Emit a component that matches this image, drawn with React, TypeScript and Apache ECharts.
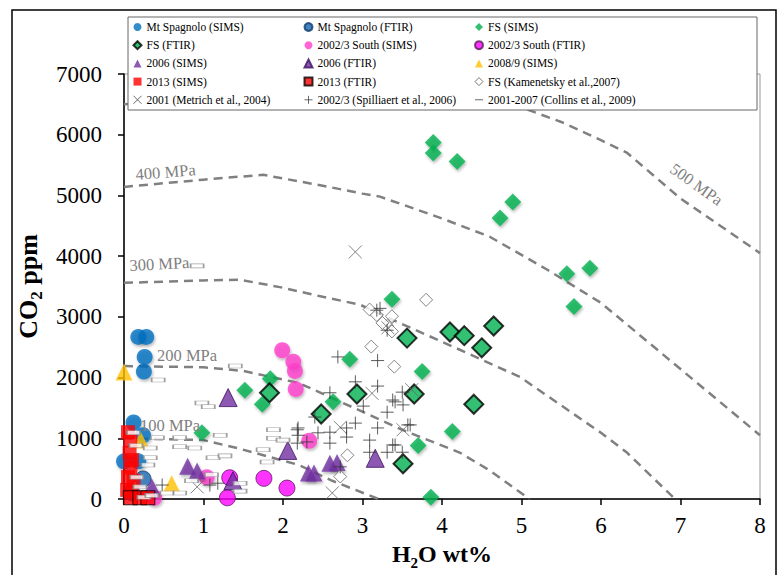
import React, { useEffect, useRef } from "react";
import * as echarts from "echarts";

const FONT = "'Liberation Serif', 'Times New Roman', serif";

// ---- data: [H2O wt%, CO2 ppm] ----
const mtSpagnoloSIMS = [[0.18, 2670], [0.28, 2670], [0.26, 2340], [0.25, 2100], [0.12, 1260], [0.24, 1050], [0.0, 620], [0.18, 620]];
const mtSpagnoloFTIR = [[0.24, 330], [0.1, 100]];
const fsSIMS = [[3.89, 5870], [3.89, 5700], [4.19, 5560], [4.89, 4890], [4.73, 4630], [5.57, 3710], [5.86, 3800], [5.66, 3170], [3.37, 3290], [2.84, 2300], [3.75, 2100], [1.84, 1980], [1.52, 1790], [1.74, 1560], [2.63, 1600], [3.70, 880], [3.86, 30], [0.98, 1090], [4.13, 1110]];
const fsFTIR = [[4.10, 2750], [4.28, 2690], [4.65, 2850], [4.50, 2490], [3.56, 2650], [3.65, 1730], [2.93, 1730], [4.40, 1560], [2.48, 1400], [1.83, 1750], [3.51, 580]];
const south23SIMS = [[1.99, 2450], [2.13, 2260], [2.15, 2110], [2.16, 1810], [2.33, 960], [1.04, 360], [0.38, 20]];
const south23FTIR = [[1.33, 350], [1.30, 20], [1.76, 340], [2.05, 180]];
const y2006SIMS = [[0.80, 540], [0.92, 460], [2.32, 430], [2.39, 430], [2.59, 590], [2.68, 600], [0.35, 200]];
const y2006FTIR = [[1.31, 1670], [2.06, 800], [3.16, 670], [1.37, 300]];
const y2008SIMS = [[0.0, 2090], [0.21, 970], [0.6, 250]];
const y2013SIMS = [[0.05, 1100], [0.08, 960], [0.07, 760], [0.1, 640], [0.08, 520], [0.05, 360], [0.12, 300], [0.04, 150], [0.1, 130]];
const y2013FTIR = [[0.08, 20], [0.2, 20], [0.3, 20]];
const kamenetsky = [[3.80, 3280], [3.09, 3120], [3.18, 3030], [3.37, 3010], [3.31, 2850], [3.37, 2760], [3.11, 2510], [3.40, 2180], [2.81, 720], [2.72, 370], [3.25, 2900]];
const metrich = [[2.91, 4070], [3.12, 1740], [3.51, 1140], [2.62, 100], [0.92, 200], [3.62, 1800], [3.32, 2820], [2.72, 1180]];
const spilliaert = [[2.69, 2340], [3.19, 2280], [2.91, 1930], [3.19, 1860], [2.59, 1750], [3.01, 1530], [2.40, 1350], [2.19, 1170], [2.19, 1050], [2.30, 940], [2.59, 1100], [2.59, 920], [2.80, 1170], [2.91, 1250], [2.80, 1020], [3.31, 1430], [3.38, 1630], [3.51, 1550], [3.60, 1220], [3.09, 970], [3.09, 770], [3.41, 890], [2.72, 530], [3.19, 1170], [3.18, 3110], [3.31, 2780], [2.44, 1090], [2.18, 1140], [2.18, 920], [0.48, 230], [1.18, 260], [1.08, 230], [3.5, 1760], [3.41, 1600], [3.57, 1220], [3.38, 890], [3.31, 770], [3.5, 770], [3.22, 3140]];
const collins = [[1.40, 2190], [0.43, 1960], [0.98, 1580], [1.06, 1520], [0.12, 1090], [0.70, 1010], [1.21, 1050], [0.70, 860], [0.89, 840], [0.33, 840], [0.33, 680], [1.12, 680], [1.27, 710], [1.88, 1140], [1.88, 1000], [2.0, 970], [1.75, 810], [1.80, 610], [1.46, 260], [1.46, 130], [0.70, 100], [0.54, 100], [0.42, 1010], [0.16, 360], [0.2, 200], [0.92, 3840], [0.3, 560], [0.15, 880], [1.1, 400], [0.85, 300], [0.25, 30], [0.35, 60]];

// isobars
const iso100 = [[0, 1000], [1.0, 970], [1.45, 830], [2.2, 560], [2.6, 310], [3.2, 0]];
const iso200 = [[0, 2190], [1.0, 2170], [1.5, 2110], [2.2, 1910], [2.59, 1680], [3.5, 1140], [4.23, 760], [4.6, 470], [5.1, 0]];
const iso300 = [[0, 3560], [1.0, 3600], [1.46, 3610], [1.96, 3490], [2.5, 3330], [2.97, 3200], [3.38, 2950], [4.0, 2590], [4.98, 2010], [6.0, 1090], [6.33, 760], [6.93, 0]];
const iso400 = [[0, 5140], [1.0, 5260], [1.75, 5340], [2.5, 5160], [3.0, 5030], [3.22, 4980], [4.0, 4620], [4.6, 4320], [5.32, 3780], [6.0, 3230], [7.0, 2140], [8.0, 1050]];
const iso500 = [[0, 6500], [2.0, 6700], [3.5, 6650], [4.5, 6560], [5.0, 6450], [5.5, 6210], [6.0, 5910], [6.33, 5700], [7.0, 4950], [8.0, 4050]];

const xTicks = [0, 8, 1];
const yTicks = [0, 7000, 1000];

const CROSS = "path://M0,0L10,10M10,0L0,10";
const PLUS = "path://M5,0L5,10M0,5L10,5";
const DASH = "path://M0,0L0.01,0M0,4.4H10V5.6H0ZM0,10L0.01,10";

const shadow = { shadowBlur: 3, shadowColor: "rgba(0,0,0,0.35)", shadowOffsetX: 1, shadowOffsetY: 2 };
const noShadow = { shadowBlur: 0, shadowColor: "transparent", shadowOffsetX: 0, shadowOffsetY: 0 };

export default function App() {
  const ref = useRef<HTMLDivElement>(null);
  useEffect(() => {
    if (!ref.current) return;
    const chart = echarts.init(ref.current, null, { renderer: "svg" });

    const iso = (name: string, data: number[][]) => ({
      name, type: "line", data, showSymbol: false, symbol: "none", silent: true, z: 1,
      lineStyle: { color: "#808080", width: 2.5, type: [9, 6] },
    });
    const sc = (name: string, data: number[][], symbol: any, size: any, itemStyle: any, z = 2) => ({
      name, type: "scatter", data, symbol, symbolSize: size, itemStyle, z,
    });

    const series = [
      iso("iso100", iso100), iso("iso200", iso200), iso("iso300", iso300), iso("iso400", iso400), iso("iso500", iso500),
      sc("Mt Spagnolo (SIMS)", mtSpagnoloSIMS, "circle", 16, { color: "#0070C0", ...shadow }),
      sc("Mt Spagnolo (FTIR)", mtSpagnoloFTIR, "circle", 16, { color: "#1563AE", borderColor: "#0d3b6e", borderWidth: 1 }),
      sc("FS (SIMS)", fsSIMS, "diamond", 17, { color: "#00B050", ...shadow }),
      sc("FS (FTIR)", fsFTIR, "diamond", 19, { color: "#00B050", borderColor: "#000", borderWidth: 2 }),
      sc("2002/3 South (SIMS)", south23SIMS, "circle", 16, { color: "#FF3FCC", ...shadow }),
      sc("2002/3 South (FTIR)", south23FTIR, "circle", 16, { color: "#FF00FF", borderColor: "#5a1a5a", borderWidth: 1 }),
      sc("2006 (SIMS)", y2006SIMS, "triangle", 17, { color: "#7030A0", ...shadow }),
      sc("2006 (FTIR)", y2006FTIR, "triangle", 18, { color: "#7030A0", borderColor: "#3a1060", borderWidth: 1 }),
      sc("2008/9 (SIMS)", y2008SIMS, "triangle", 17, { color: "#FFC000" }),
      sc("2013 (SIMS)", y2013SIMS, "rect", 14, { color: "#FF0000" }),
      sc("2013 (FTIR)", y2013FTIR, "rect", 14, { color: "#FF0000", borderColor: "#000", borderWidth: 1 }),
      sc("FS (Kamenetsky et al.,2007)", kamenetsky, "diamond", 13, { color: "#fff", borderColor: "#666", borderWidth: 1 }, 3),
      sc("2001 (Metrich et al., 2004)", metrich, CROSS, 13, { color: "none", borderColor: "#666", borderWidth: 1 }, 3),
      sc("2002/3 (Spilliaert et al., 2006)", spilliaert, PLUS, 13, { color: "none", borderColor: "#333", borderWidth: 1 }, 3),
      sc("2001-2007 (Collins et al., 2009)", collins, "rect", [13, 4], { color: "#fff", borderColor: "#888", borderWidth: 1 }, 3),
    ];

    const LEG_FS = 11.5;
    const li = (name: string, icon?: string, itemStyle?: any) => {
      const o: any = { name, textStyle: { fontFamily: FONT, fontSize: LEG_FS, color: "#000" } };
      if (icon) o.icon = icon;
      o.itemStyle = { ...noShadow, ...(itemStyle || {}) };
      return o;
    };
    const legendBase = {
      orient: "vertical", top: 20, padding: 0, itemGap: 4.2, itemWidth: 8, itemHeight: 8,
      selectedMode: false, z: 10,
      textStyle: { fontFamily: FONT, fontSize: LEG_FS, color: "#000", lineHeight: 14 },
    };
    const legend = [
      { ...legendBase, left: 131, data: [
        li("Mt Spagnolo (SIMS)", "circle"), li("FS (FTIR)", "diamond"), li("2006 (SIMS)", "triangle"), li("2013 (SIMS)", "rect"),
        li("2001 (Metrich et al., 2004)", CROSS, { color: "none", borderColor: "#444", borderWidth: 1 }),
      ] },
      { ...legendBase, left: 302, data: [
        li("Mt Spagnolo (FTIR)", "circle"), li("2002/3 South (SIMS)", "circle"), li("2006 (FTIR)", "triangle"), li("2013 (FTIR)", "rect"),
        li("2002/3 (Spilliaert et al., 2006)", PLUS, { color: "none", borderColor: "#444", borderWidth: 1 }),
      ] },
      { ...legendBase, left: 474, data: [
        li("FS (SIMS)", "diamond"), li("2002/3 South (FTIR)", "circle"), li("2008/9 (SIMS)", "triangle"),
        li("FS (Kamenetsky et al.,2007)", "diamond", { color: "#fff", borderColor: "#555", borderWidth: 1 }),
        li("2001-2007 (Collins et al., 2009)", DASH, { color: "#444", borderWidth: 0 }),
      ] },
    ];

    const mpa = { fontFamily: FONT, fontSize: 16.5, fill: "#7f7f7f" };
    const option: any = {
      animation: false,
      backgroundColor: "#fff",
      textStyle: { fontFamily: FONT },
      grid: { left: 124, right: 23, top: 74, bottom: 76, show: true, borderColor: "#999", borderWidth: 1 },
      xAxis: {
        type: "value", min: xTicks[0], max: xTicks[1], interval: xTicks[2],
        axisLine: { show: true, lineStyle: { color: "#000", width: 1.5 } },
        axisTick: { show: true, length: 6, lineStyle: { color: "#000", width: 1.5 } },
        splitLine: { show: false },
        axisLabel: { color: "#000", fontFamily: FONT, fontSize: 23, margin: 15, formatter: (v: number) => String(v) },
        name: "{a|H}{b|2}{a|O wt%}", nameLocation: "middle", nameGap: 39,
        nameTextStyle: { rich: {
          a: { fontFamily: FONT, fontSize: 24, fontWeight: "bold", color: "#000", lineHeight: 32, verticalAlign: "middle" },
          b: { fontFamily: FONT, fontSize: 15, fontWeight: "bold", color: "#000", lineHeight: 32, verticalAlign: "bottom" },
        } },
      },
      yAxis: {
        type: "value", min: yTicks[0], max: yTicks[1], interval: yTicks[2],
        axisLine: { show: true, lineStyle: { color: "#000", width: 1.5 } },
        axisTick: { show: true, length: 6, lineStyle: { color: "#000", width: 1.5 } },
        splitLine: { show: false },
        axisLabel: { color: "#000", fontFamily: FONT, fontSize: 23, margin: 22, formatter: (v: number) => String(v) },
        name: "{a|CO}{b|2}{a| ppm}", nameLocation: "middle", nameGap: 71, nameRotate: 90,
        nameTextStyle: { rich: {
          a: { fontFamily: FONT, fontSize: 26, fontWeight: "bold", color: "#000", lineHeight: 34, verticalAlign: "middle" },
          b: { fontFamily: FONT, fontSize: 17, fontWeight: "bold", color: "#000", lineHeight: 34, verticalAlign: "bottom" },
        } },
      },
      legend,
      graphic: [
        { type: "rect", shape: { x: 12, y: 10, width: 764, height: 600 }, style: { fill: "none", stroke: "#000", lineWidth: 1.5 }, z: 0, silent: true },
        { type: "rect", shape: { x: 128, y: 17, width: 629, height: 93 }, style: { fill: "#fff", stroke: "#666", lineWidth: 1 }, z: 8, silent: true },
        { type: "text", x: 135, y: 166, rotation: 0.08, style: { text: "400 MPa", ...mpa }, z: 5, silent: true },
        { type: "text", x: 129, y: 257, rotation: 0.05, style: { text: "300 MPa", ...mpa }, z: 5, silent: true },
        { type: "text", x: 157, y: 347, style: { text: "200 MPa", ...mpa }, z: 5, silent: true },
        { type: "text", x: 140, y: 417, style: { text: "100 MPa", ...mpa }, z: 5, silent: true },
        { type: "text", x: 677, y: 160, rotation: -0.62, style: { text: "500 MPa", ...mpa }, z: 5, silent: true },
      ],
      series,
    };
    chart.setOption(option);
    return () => chart.dispose();
  }, []);
  return <div ref={ref} style={{ position: "fixed", left: 0, top: 0, width: 783, height: 575 }} />;
}
